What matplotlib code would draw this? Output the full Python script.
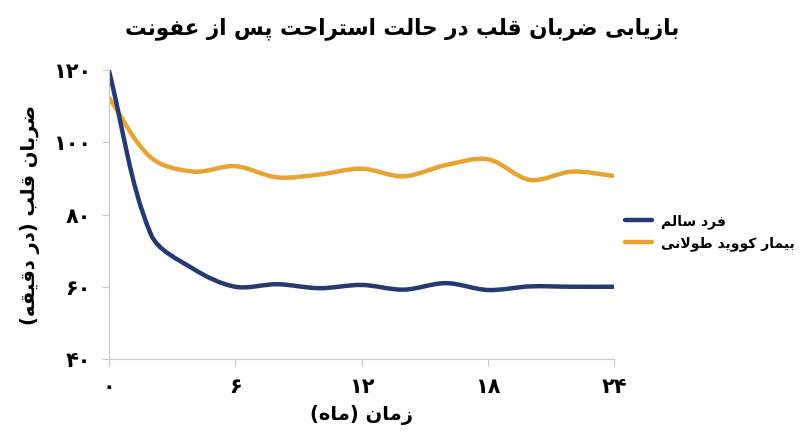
import numpy as np
import matplotlib
matplotlib.use("Agg")
import matplotlib.pyplot as plt
from matplotlib.path import Path
from matplotlib.patches import PathPatch
from matplotlib.lines import Line2D

# donnees
mois = [0, 2, 4, 6, 8, 10, 12, 14, 16, 18, 20, 22, 24]
sain = [120, 74.5, 65, 60, 60.7, 59.6, 60.5, 59.2, 61.0, 59.1, 60.1, 60, 60]
covid_long = [112.4, 95.8, 91.9, 93.4, 90.3, 91.1, 92.7, 90.6, 93.7, 95.3, 89.6, 91.9, 90.7]

x_ticks = [0, 6, 12, 18, 24]
y_ticks = [40, 60, 80, 100, 120]

titre = "بازیابی ضربان قلب در حالت استراحت پس از عفونت"
label_x = "زمان (ماه)"
label_y = "ضربان قلب (در دقیقه)"
nom_sain = "فرد سالم"
nom_covid = "بیمار کووید طولانی"

bleu = "#253a72"
orange = "#e8a332"

# formes contextuelles: isole, final, initial, median
FORMES = {
    "ا": (0xFE8D, 0xFE8E), "ب": (0xFE8F, 0xFE90, 0xFE91, 0xFE92),
    "ت": (0xFE95, 0xFE96, 0xFE97, 0xFE98), "ح": (0xFEA1, 0xFEA2, 0xFEA3, 0xFEA4),
    "د": (0xFEA9, 0xFEAA), "ر": (0xFEAD, 0xFEAE), "ز": (0xFEAF, 0xFEB0),
    "س": (0xFEB1, 0xFEB2, 0xFEB3, 0xFEB4), "ض": (0xFEBD, 0xFEBE, 0xFEBF, 0xFEC0),
    "ط": (0xFEC1, 0xFEC2, 0xFEC3, 0xFEC4), "ع": (0xFEC9, 0xFECA, 0xFECB, 0xFECC),
    "ف": (0xFED1, 0xFED2, 0xFED3, 0xFED4), "ق": (0xFED5, 0xFED6, 0xFED7, 0xFED8),
    "ل": (0xFEDD, 0xFEDE, 0xFEDF, 0xFEE0), "م": (0xFEE1, 0xFEE2, 0xFEE3, 0xFEE4),
    "ن": (0xFEE5, 0xFEE6, 0xFEE7, 0xFEE8), "ه": (0xFEE9, 0xFEEA, 0xFEEB, 0xFEEC),
    "و": (0xFEED, 0xFEEE), "پ": (0xFB56, 0xFB57, 0xFB58, 0xFB59),
    "ک": (0xFB8E, 0xFB8F, 0xFB90, 0xFB91), "ی": (0xFBFC, 0xFBFD, 0xFBFE, 0xFBFF),
}


def lie_suivant(c):
    return c in FORMES and len(FORMES[c]) == 4


def rtl(s):
    out = []
    i = 0
    while i < len(s):
        c = s[i]
        prev = s[i - 1] if i > 0 else ""
        nxt = s[i + 1] if i + 1 < len(s) else ""
        if c not in FORMES:
            out.append({"(": ")", ")": "("}.get(c, c))
            i += 1
            continue
        lie_av = lie_suivant(prev)
        if c == "ل" and nxt == "ا":
            out.append(chr(0xFEFC if lie_av else 0xFEFB))
            i += 2
            continue
        f = FORMES[c]
        lie_ap = len(f) == 4 and nxt in FORMES
        if lie_av and lie_ap:
            g = f[3]
        elif lie_av:
            g = f[1]
        elif lie_ap:
            g = f[2]
        else:
            g = f[0]
        out.append(chr(g))
        i += 1
    return "".join(out[::-1])


def fa(n):
    return "".join(chr(0x06F0 + int(d)) for d in str(n))


def courbe(x, y, sx=21.0, sy=3.6):
    # chemin lisse passant par les points, bras de controle
    # proportionnels a la longueur des segments voisins
    p = np.column_stack([x, y]).astype(float)
    n = len(p)
    q = p * [sx, sy]
    L = np.hypot(*np.diff(q, axis=0).T)
    pts = [p[0]]
    codes = [Path.MOVETO]
    for i in range(n - 1):
        if i > 0:
            t = p[i + 1] - p[i - 1]
            c1 = p[i] + t * L[i] / (L[i - 1] + L[i]) / 3
        else:
            c1 = p[i] + (p[i + 1] - p[i]) / 3
        if i + 2 < n:
            t = p[i + 2] - p[i]
            c2 = p[i + 1] - t * L[i] / (L[i] + L[i + 1]) / 3
        else:
            c2 = p[i + 1] - (p[i + 1] - p[i]) / 3
        pts += [c1, c2, p[i + 1]]
        codes += [Path.CURVE4] * 3
    return Path(pts, codes)


plt.rcParams["font.family"] = "DejaVu Sans"

fig = plt.figure(figsize=(8, 4.47), dpi=100)
ax = fig.add_axes([0.136, 0.197, 0.632, 0.646])

for yy, coul in ((covid_long, orange), (sain, bleu)):
    ax.add_patch(PathPatch(courbe(mois, yy), fill=False, edgecolor=coul,
                           lw=3.2, capstyle="round", joinstyle="round"))

ax.set_xlim(0, 24)
ax.set_ylim(40, 120)
ax.set_xticks(x_ticks)
ax.set_xticklabels([fa(v) for v in x_ticks], fontsize=15, fontweight="bold")
ax.set_yticks(y_ticks)
ax.set_yticklabels([fa(v) for v in y_ticks], fontsize=15, fontweight="bold")
for s in ("top", "right"):
    ax.spines[s].set_visible(False)
for s in ("left", "bottom"):
    ax.spines[s].set_color("#c8c8c8")
ax.tick_params(colors="#c8c8c8", labelcolor="black", length=5, pad=8)
ax.patch.set_alpha(0)

fig.text(0.503, 0.937, rtl(titre), ha="center", va="center",
         fontsize=15.5, fontweight="bold")
ax.set_xlabel(rtl(label_x), fontsize=14, fontweight="bold", labelpad=6)
ax.set_ylabel(rtl(label_y), fontsize=14, fontweight="bold", labelpad=9)

handles = [Line2D([], [], color=bleu, lw=3.2, solid_capstyle="round"),
           Line2D([], [], color=orange, lw=3.2, solid_capstyle="round")]
fig.legend(handles, [rtl(nom_sain), rtl(nom_covid)], loc="center left",
           bbox_to_anchor=(0.765, 0.48), frameon=False, handlelength=2.0,
           handletextpad=0.6, labelspacing=0.55,
           prop={"weight": "bold", "size": 10})

fig.savefig("out.png", dpi=100)
